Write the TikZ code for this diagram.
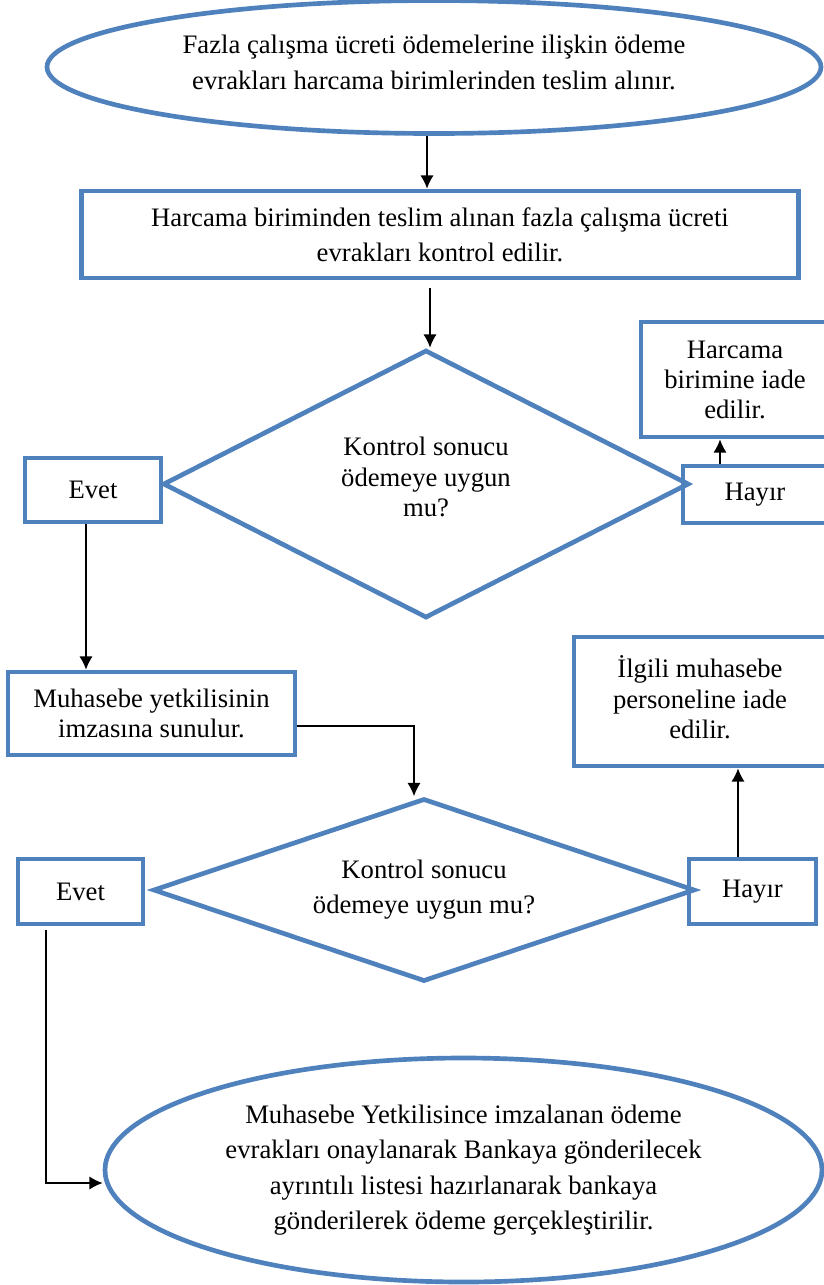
\documentclass[tikz,border=0pt]{standalone}
\usepackage{fontspec}
\setmainfont{Liberation Serif}
\usetikzlibrary{shapes.geometric,arrows.meta}
\definecolor{shapeblue}{HTML}{4F81BD}
\newcommand\PX{0.45pt}
\newcommand\lift[1]{\rule[-#1]{0pt}{0pt}}
\begin{document}
\begin{tikzpicture}[x=0.45pt,y=-0.45pt,
  shp/.style={draw=shapeblue,line width=2.1pt,inner sep=0pt,align=center},
  rbox/.style={shp,rectangle},
  ell/.style={shp,ellipse},
  dia/.style={shp,diamond},
  arr/.style={draw=black,line width=0.7pt,-{Latex[length=6pt,width=6pt]}},
  ls/.style={font=\fontsize{12}{#1}\selectfont}
]
\useasboundingbox (0,0) rectangle (824,1285);

% shapes
\node[ell,ls=16.2pt,minimum width=774*\PX,minimum height=133*\PX] (e1) at (434,67)
  {Fazla çalışma ücreti ödemelerine ilişkin ödeme\\evrakları harcama birimlerinden teslim alınır.\lift{4pt}};
\node[rbox,ls=15.75pt,minimum width=717*\PX,minimum height=87*\PX] (b1) at (440,234.5)
  {Harcama biriminden teslim alınan fazla çalışma ücreti\\evrakları kontrol edilir.};
\node[dia,ls=13.7pt,shape aspect=1.96,minimum width=526*\PX,minimum height=268*\PX] (d1) at (426,484)
  {Kontrol sonucu\\ödemeye uygun\\mu?\lift{6.4pt}};
\node[rbox,ls=14pt,minimum width=136*\PX,minimum height=64*\PX] (ev1) at (93,490) {Evet};
\node[rbox,ls=14pt,minimum width=144*\PX,minimum height=57*\PX] (hy1) at (755,494.5) {Hayır};
\node[rbox,ls=13.5pt,minimum width=188*\PX,minimum height=115*\PX] (hr) at (735,379.5)
  {Harcama\\birimine iade\\edilir.};
\node[rbox,ls=13.2pt,minimum width=287*\PX,minimum height=83*\PX] (mh) at (151.5,713.5)
  {Muhasebe yetkilisinin\\imzasına sunulur.};
\node[rbox,ls=13.7pt,minimum width=252*\PX,minimum height=129*\PX] (il) at (700,701.5)
  {İlgili muhasebe\\personeline iade\\edilir.\lift{4pt}};
\node[dia,ls=15.75pt,shape aspect=2.96,minimum width=542*\PX,minimum height=183*\PX] (d2) at (424,890)
  {Kontrol sonucu\\ödemeye uygun mu?};
\node[rbox,ls=14pt,minimum width=125*\PX,minimum height=65*\PX] (ev2) at (80.5,891.5) {Evet};
\node[rbox,ls=14pt,minimum width=127*\PX,minimum height=65*\PX] (hy2) at (752.5,891.5) {Hayır};
\node[ell,ls=16pt,minimum width=717*\PX,minimum height=224*\PX] (e2) at (463.5,1170)
  {Muhasebe Yetkilisince imzalanan ödeme\\evrakları onaylanarak Bankaya gönderilecek\\ayrıntılı listesi hazırlanarak bankaya\\gönderilerek ödeme gerçekleştirilir.};

% helper coordinates
\coordinate (x1) at (427,0);
\coordinate (x2) at (430,0);
\coordinate (x3) at (720,0);
\coordinate (x4) at (86,0);
\coordinate (x5) at (414,0);
\coordinate (y5) at (0,726);
\coordinate (x6) at (738,0);
\coordinate (x7) at (46,0);
\coordinate (y7) at (0,1183);

% connectors
\draw[arr] (e1.south -| x1) -- (b1.north -| x1);
\draw[arr,shorten <=8*\PX] (b1.south -| x2) -- (d1.north -| x2);
\draw[arr] (hy1.north -| x3) -- (hr.south -| x3);
\draw[arr] (ev1.south -| x4) -- (mh.north -| x4);
\draw[arr] (mh.east |- y5) -| (d2.north -| x5);
\draw[arr] (hy2.north -| x6) -- (il.south -| x6);
\draw[arr,shorten <=4*\PX] (ev2.south -| x7) |- (e2.west |- y7);
\end{tikzpicture}
\end{document}
